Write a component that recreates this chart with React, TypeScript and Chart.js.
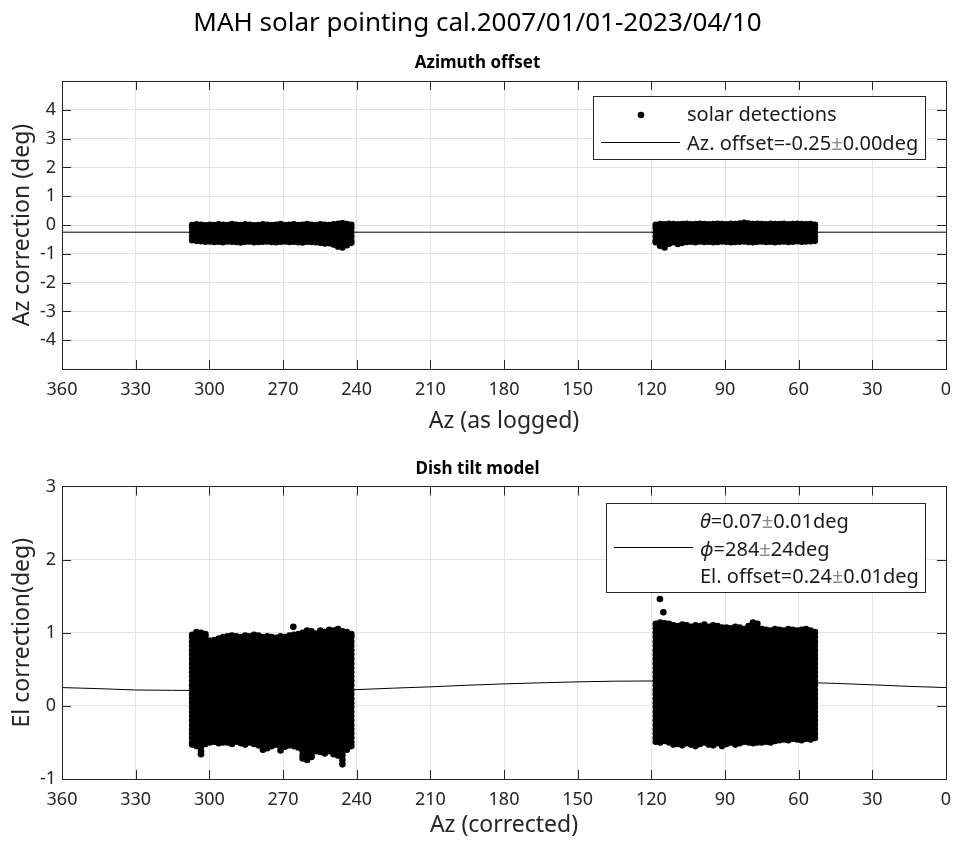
import React, { useEffect, useRef } from "react";
import { Chart, registerables } from "chart.js";
Chart.register(...registerables);

const FONT = "'Noto Sans', 'DejaVu Sans', sans-serif";
Chart.defaults.font.family = FONT;

// ---------- text ----------
const mainTitle = "MAH solar pointing cal.2007/01/01-2023/04/10";
const topTitle = "Azimuth offset";
const bottomTitle = "Dish tilt model";
const topXLabel = "Az (as logged)";
const bottomXLabel = "Az (corrected)";
const topYLabel = "Az correction (deg)";
const bottomYLabel = "El correction(deg)";
const detectionsLabel = "solar detections";

// ---------- ticks ----------
const azTicks = [360, 330, 300, 270, 240, 210, 180, 150, 120, 90, 60, 30, 0];
const topYTicks = [4, 3, 2, 1, 0, -1, -2, -3, -4];
const bottomYTicks = [3, 2, 1, 0, -1];

// ---------- detection clusters (az columns, with el extents read per column) ----------
const westAz = [307.0, 305.2, 303.4, 301.6, 299.8, 298.0, 296.2, 294.4, 292.6, 290.8, 289.0, 287.2, 285.4, 283.6, 281.8, 280.0, 278.2, 276.4, 274.6, 272.8, 271.0, 269.2, 267.4, 265.6, 263.8, 262.0, 260.2, 258.4, 256.6, 254.8, 253.0, 251.2, 249.4, 247.6, 245.8, 244.0, 242.2];
const eastAz = [118.2, 116.4, 114.6, 112.8, 111.0, 109.2, 107.4, 105.6, 103.8, 102.0, 100.2, 98.4, 96.6, 94.8, 93.0, 91.2, 89.4, 87.6, 85.8, 84.0, 82.2, 80.4, 78.6, 76.8, 75.0, 73.2, 71.4, 69.6, 67.8, 66.0, 64.2, 62.4, 60.6, 58.8, 57.0, 55.2, 53.4];

// el levels of the densely packed detections
const topRows = [0.05, -0.10, -0.25, -0.40, -0.55, -0.70];
const bottomRows = [-0.80, -0.74, -0.68, -0.62, -0.56, -0.50, -0.44, -0.38, -0.32, -0.26, -0.20, -0.14, -0.08, -0.02, 0.04, 0.10, 0.16, 0.22, 0.28, 0.34, 0.40, 0.46, 0.52, 0.58, 0.64, 0.70, 0.76, 0.82, 0.88, 0.94, 1.00, 1.06, 1.12];

// top panel (Az correction)
const topWestHi = [0.00, 0.02, 0.01, -0.01, 0.01, 0.00, 0.02, 0.01, 0.00, 0.03, 0.01, 0.00, 0.02, 0.01, -0.01, 0.00, 0.02, 0.01, 0.00, 0.01, 0.03, 0.00, 0.01, 0.02, 0.00, 0.01, 0.03, 0.01, 0.00, 0.02, 0.01, 0.00, 0.02, 0.04, 0.06, 0.03, 0.01];
const topWestLo = [-0.53, -0.55, -0.56, -0.58, -0.57, -0.59, -0.58, -0.60, -0.57, -0.58, -0.59, -0.61, -0.58, -0.57, -0.60, -0.59, -0.58, -0.57, -0.59, -0.60, -0.58, -0.57, -0.59, -0.58, -0.60, -0.61, -0.58, -0.59, -0.60, -0.62, -0.64, -0.63, -0.68, -0.75, -0.78, -0.70, -0.62];
const topEastHi = [0.01, 0.03, 0.02, 0.04, 0.03, 0.02, 0.03, 0.04, 0.02, 0.03, 0.04, 0.03, 0.02, 0.03, 0.04, 0.03, 0.02, 0.04, 0.03, 0.05, 0.08, 0.05, 0.03, 0.04, 0.03, 0.02, 0.04, 0.03, 0.03, 0.04, 0.02, 0.03, 0.04, 0.03, 0.02, 0.03, 0.01];
const topEastLo = [-0.60, -0.72, -0.78, -0.65, -0.60, -0.66, -0.62, -0.59, -0.58, -0.60, -0.57, -0.59, -0.58, -0.60, -0.59, -0.57, -0.58, -0.60, -0.59, -0.58, -0.57, -0.59, -0.60, -0.58, -0.57, -0.59, -0.58, -0.60, -0.58, -0.57, -0.59, -0.58, -0.56, -0.58, -0.57, -0.56, -0.55];

// bottom panel (El correction)
const botWestHi = [0.97, 1.01, 1.00, 0.98, 0.89, 0.90, 0.92, 0.94, 0.95, 0.96, 0.95, 0.94, 0.96, 0.95, 0.97, 0.96, 0.94, 0.95, 0.94, 0.93, 0.95, 0.94, 0.96, 0.97, 0.98, 1.00, 1.03, 1.02, 0.99, 1.03, 1.01, 1.04, 1.03, 1.05, 1.02, 1.01, 0.98];
const botWestLo = [-0.53, -0.55, -0.66, -0.52, -0.50, -0.49, -0.51, -0.50, -0.50, -0.52, -0.49, -0.51, -0.53, -0.50, -0.52, -0.54, -0.60, -0.58, -0.55, -0.53, -0.61, -0.56, -0.54, -0.55, -0.57, -0.72, -0.74, -0.70, -0.62, -0.63, -0.65, -0.62, -0.66, -0.68, -0.80, -0.60, -0.55];
const botEastHi = [1.12, 1.14, 1.13, 1.12, 1.10, 1.09, 1.11, 1.10, 1.08, 1.10, 1.09, 1.11, 1.08, 1.10, 1.09, 1.07, 1.07, 1.06, 1.08, 1.07, 1.05, 1.09, 1.14, 1.12, 1.05, 1.04, 1.03, 1.05, 1.04, 1.03, 1.05, 1.04, 1.03, 1.04, 1.05, 1.03, 1.01];
const botEastLo = [-0.49, -0.50, -0.48, -0.50, -0.53, -0.52, -0.54, -0.51, -0.53, -0.55, -0.52, -0.50, -0.53, -0.54, -0.51, -0.55, -0.52, -0.50, -0.53, -0.51, -0.49, -0.50, -0.51, -0.50, -0.50, -0.49, -0.50, -0.48, -0.47, -0.46, -0.47, -0.45, -0.46, -0.47, -0.45, -0.46, -0.44];
const botOutlierAz = [116.5, 115.1, 265.8];
const botOutlierEl = [1.46, 1.28, 1.08];

// ---------- fitted models ----------
const azFitAz = [360, 0];
const azFitEl = [-0.25, -0.25];
const tiltFitAz = [360, 345, 330, 315, 300, 285, 270, 255, 240, 225, 210, 195, 180, 165, 150, 135, 120, 105, 90, 75, 60, 45, 30, 15, 0];
const tiltFitEl = [0.25, 0.235, 0.217, 0.212, 0.21, 0.21, 0.212, 0.215, 0.222, 0.242, 0.26, 0.282, 0.30, 0.315, 0.328, 0.337, 0.34, 0.34, 0.336, 0.33, 0.322, 0.307, 0.288, 0.266, 0.25];

// ---------- styles ----------
const AXIS = "#262626";
const GRID = "#e3e3e3";
const TICK_SIZE = 18;
const LABEL_SIZE = 23;
const LEGEND_SIZE = 20;

type Pt = { x: number; y: number };
function cluster(cols: number[], lo: number[], hi: number[], rows: number[]): Pt[] {
  const pts: Pt[] = [];
  cols.forEach((az, i) => {
    pts.push({ x: az, y: lo[i] }, { x: az, y: hi[i] });
    rows.forEach((r) => {
      if (r > lo[i] && r < hi[i]) pts.push({ x: az, y: r });
    });
  });
  return pts;
}
const zip = (a: number[], b: number[]): Pt[] => a.map((x, i) => ({ x, y: b[i] }));

const framePlugin = {
  id: "frame",
  afterDraw(chart: any) {
    const { ctx, chartArea: a, scales } = chart;
    const L = 9;
    const r = (v: number) => Math.round(v) + 0.5;
    ctx.save();
    ctx.strokeStyle = AXIS;
    ctx.lineWidth = 1;
    ctx.beginPath();
    scales.x.ticks.forEach((t: any) => {
      const px = r(scales.x.getPixelForValue(t.value));
      ctx.moveTo(px, a.bottom);
      ctx.lineTo(px, a.bottom - L);
      ctx.moveTo(px, a.top);
      ctx.lineTo(px, a.top + L);
    });
    scales.y.ticks.forEach((t: any) => {
      const py = r(scales.y.getPixelForValue(t.value));
      ctx.moveTo(a.left, py);
      ctx.lineTo(a.left + L, py);
      ctx.moveTo(a.right, py);
      ctx.lineTo(a.right - L, py);
    });
    ctx.stroke();
    ctx.strokeRect(r(a.left), r(a.top), Math.round(a.right - a.left), Math.round(a.bottom - a.top));
    ctx.restore();
  },
};

type Part = { text: string; italic?: boolean; color?: string };
type LegendCfg = {
  width: number;
  height: number;
  rightInset: number;
  topInset: number;
  rows: { y: number; parts: Part[] }[];
  marker: { kind: "dot" | "line"; y: number }[];
};
function legendPlugin(cfg: LegendCfg) {
  return {
    id: "matlabLegend",
    afterDraw(chart: any) {
      const { ctx, chartArea: a } = chart;
      const x0 = Math.round(a.right - cfg.rightInset - cfg.width);
      const y0 = Math.round(a.top + cfg.topInset);
      ctx.save();
      ctx.fillStyle = "#fff";
      ctx.fillRect(x0, y0, cfg.width, cfg.height);
      ctx.strokeStyle = AXIS;
      ctx.lineWidth = 1;
      ctx.strokeRect(x0 + 0.5, y0 + 0.5, cfg.width, cfg.height);
      cfg.marker.forEach((m) => {
        if (m.kind === "dot") {
          ctx.fillStyle = "#000";
          ctx.beginPath();
          ctx.arc(x0 + 48, y0 + m.y, 3.3, 0, Math.PI * 2);
          ctx.fill();
        } else {
          ctx.strokeStyle = "#000";
          ctx.beginPath();
          ctx.moveTo(x0 + 8, y0 + m.y + 0.5);
          ctx.lineTo(x0 + 87, y0 + m.y + 0.5);
          ctx.stroke();
        }
      });
      ctx.textBaseline = "middle";
      ctx.textAlign = "left";
      cfg.rows.forEach((row) => {
        let x = x0 + 94;
        row.parts.forEach((p) => {
          ctx.font = `${p.italic ? "italic " : ""}${LEGEND_SIZE}px ${FONT}`;
          ctx.fillStyle = p.color || "#1a1a1a";
          ctx.fillText(p.text, x, y0 + row.y);
          x += ctx.measureText(p.text).width;
        });
      });
      ctx.restore();
    },
  };
}

function xScale(title: string, height: number, titlePadBottom: number) {
  return {
    type: "linear",
    reverse: true,
    min: 0,
    max: 360,
    afterBuildTicks: (s: any) => {
      s.ticks = azTicks.map((v) => ({ value: v }));
    },
    afterFit: (s: any) => {
      s.height = height;
      s.paddingLeft = 0;
      s.paddingRight = 9;
    },
    grid: { color: GRID, drawTicks: false, lineWidth: 1 },
    border: { display: false },
    ticks: {
      color: AXIS,
      font: { size: TICK_SIZE },
      padding: 10,
      maxRotation: 0,
      autoSkip: false,
      callback: (v: any) => String(v),
    },
    title: {
      display: true,
      text: title,
      color: AXIS,
      font: { size: LABEL_SIZE },
      padding: { top: 0, bottom: titlePadBottom },
    },
  };
}

function yScale(title: string, min: number, max: number, ticks: number[]) {
  return {
    type: "linear",
    min,
    max,
    afterBuildTicks: (s: any) => {
      s.ticks = ticks.map((v) => ({ value: v }));
    },
    afterFit: (s: any) => {
      s.width = 62;
      s.paddingTop = 0;
      s.paddingBottom = 0;
    },
    grid: { color: GRID, drawTicks: false, lineWidth: 1 },
    border: { display: false },
    ticks: {
      color: AXIS,
      font: { size: TICK_SIZE },
      padding: 6,
      callback: (v: any) => String(v),
    },
    title: {
      display: true,
      text: title,
      color: AXIS,
      font: { size: LABEL_SIZE },
      padding: { top: 8.5, bottom: 0 },
    },
  };
}

const pointStyle = {
  pointRadius: 3.3,
  pointBackgroundColor: "#000",
  pointBorderWidth: 0,
  pointHoverRadius: 3.3,
  showLine: false,
};

export default function App() {
  const topRef = useRef<HTMLCanvasElement>(null);
  const botRef = useRef<HTMLCanvasElement>(null);

  useEffect(() => {
    const topPts = [
      ...cluster(westAz, topWestLo, topWestHi, topRows),
      ...cluster(eastAz, topEastLo, topEastHi, topRows),
    ];
    const botPts = [
      ...cluster(westAz, botWestLo, botWestHi, bottomRows),
      ...cluster(eastAz, botEastLo, botEastHi, bottomRows),
      ...zip(botOutlierAz, botOutlierEl),
    ];

    const top = new Chart(topRef.current!, {
      type: "scatter",
      data: {
        datasets: [
          { label: detectionsLabel, data: topPts, ...pointStyle } as any,
          {
            label: "Az. offset",
            data: zip(azFitAz, azFitEl),
            showLine: true,
            borderColor: "#000",
            borderWidth: 1,
            pointRadius: 0,
          } as any,
        ],
      },
      options: {
        animation: false,
        responsive: false,
        maintainAspectRatio: false,
        events: [],
        layout: { padding: { left: 0, right: 0, top: 0, bottom: 0 } },
        plugins: {
          legend: { display: false },
          tooltip: { enabled: false },
          title: {
            display: true,
            text: mainTitle,
            color: "#000",
            font: { size: 26, weight: "normal" },
            padding: { top: 7.5, bottom: 1 },
          },
          subtitle: {
            display: true,
            text: topTitle,
            color: "#000",
            font: { size: 17, weight: "bold" },
            padding: { top: 13, bottom: 7.9 },
          },
        },
        scales: {
          x: xScale(topXLabel, 71, 5) as any,
          y: yScale(topYLabel, -5, 5, topYTicks) as any,
        },
      },
      plugins: [
        framePlugin,
        legendPlugin({
          width: 332,
          height: 63,
          rightInset: 21,
          topInset: 15,
          marker: [
            { kind: "dot", y: 19 },
            { kind: "line", y: 46 },
          ],
          rows: [
            { y: 19, parts: [{ text: detectionsLabel }] },
            {
              y: 48,
              parts: [{ text: "Az. offset=-0.25" }, { text: "±", color: "#8a8a8a" }, { text: "0.00deg" }],
            },
          ],
        }),
      ],
    });

    const bot = new Chart(botRef.current!, {
      type: "scatter",
      data: {
        datasets: [
          { label: detectionsLabel, data: botPts, ...pointStyle } as any,
          {
            label: "tilt model",
            data: zip(tiltFitAz, tiltFitEl),
            showLine: true,
            borderColor: "#000",
            borderWidth: 1,
            pointRadius: 0,
          } as any,
        ],
      },
      options: {
        animation: false,
        responsive: false,
        maintainAspectRatio: false,
        events: [],
        layout: { padding: { left: 0, right: 0, top: 0, bottom: 0 } },
        plugins: {
          legend: { display: false },
          tooltip: { enabled: false },
          title: {
            display: true,
            text: bottomTitle,
            color: "#000",
            font: { size: 17, weight: "bold" },
            padding: { top: 19, bottom: 7 },
          },
        },
        scales: {
          x: xScale(bottomXLabel, 64, 3.5) as any,
          y: yScale(bottomYLabel, -1, 3, bottomYTicks) as any,
        },
      },
      plugins: [
        framePlugin,
        legendPlugin({
          width: 319,
          height: 89,
          rightInset: 21,
          topInset: 17,
          marker: [{ kind: "line", y: 44 }],
          rows: [
            {
              y: 19,
              parts: [{ text: "θ", italic: true }, { text: "=0.07" }, { text: "±", color: "#8a8a8a" }, { text: "0.01deg" }],
            },
            {
              y: 47,
              parts: [{ text: "ϕ", italic: true }, { text: "=284" }, { text: "±", color: "#8a8a8a" }, { text: "24deg" }],
            },
            {
              y: 74,
              parts: [{ text: "El. offset=0.24" }, { text: "±", color: "#8a8a8a" }, { text: "0.01deg" }],
            },
          ],
        }),
      ],
    });

    return () => {
      top.destroy();
      bot.destroy();
    };
  }, []);

  return (
    <div style={{ position: "absolute", left: 0, top: 0, width: 955, height: 843, background: "#fff" }}>
      <canvas ref={topRef} width={955} height={440} style={{ position: "absolute", left: 0, top: 0 }} />
      <canvas ref={botRef} width={955} height={403} style={{ position: "absolute", left: 0, top: 440 }} />
    </div>
  );
}
